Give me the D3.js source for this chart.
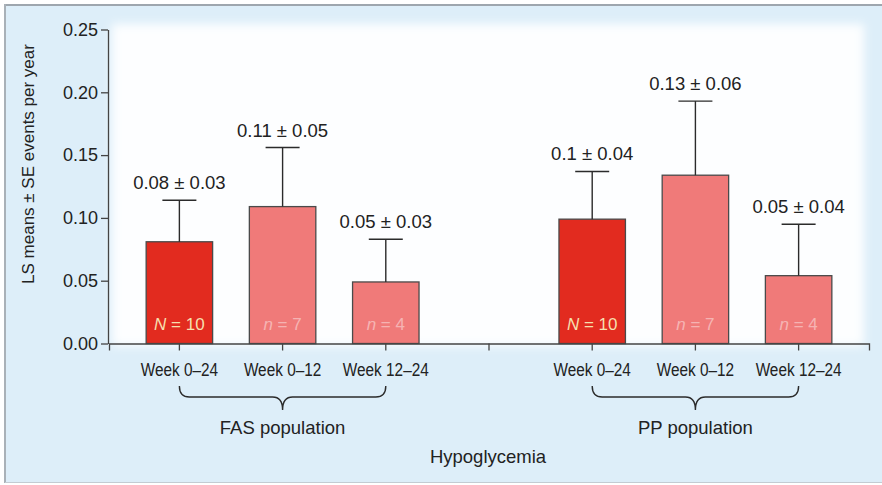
<!DOCTYPE html>
<html>
<head>
<meta charset="utf-8">
<script src="https://cdn.jsdelivr.net/npm/d3@7"></script>
<style>
  html, body { margin: 0; padding: 0; background: #ffffff; }
  svg { display: block; font-family: "Liberation Sans", Arial, Helvetica, sans-serif; }
</style>
</head>
<body>
<svg id="chart" width="882" height="485"></svg>
<script>
// Hypoglycemia event rates (LS means ± SE, events per year)
const periods = ["Week 0–24", "Week 0–12", "Week 12–24"];
const populations = ["FAS population", "PP population"];
const fasMeans = [0.081, 0.109, 0.049];
const fasSE = [0.033, 0.047, 0.034];
const ppMeans = [0.099, 0.134, 0.054];
const ppSE = [0.038, 0.059, 0.041];
const sampleSymbols = ["N", "n", "n"];
const sampleSizes = [10, 7, 4];
const yTicks = [0, 0.05, 0.10, 0.15, 0.20, 0.25];
const yTitle = "LS means ± SE events per year";
const xTitle = "Hypoglycemia";

// one slot per bar, plus an empty slot between the two populations
const slots = [
  ...periods.map((p, i) => "FAS|" + i),
  "gap",
  ...periods.map((p, i) => "PP|" + i)
];

const rows = [];
[[fasMeans, fasSE], [ppMeans, ppSE]].forEach(([means, ses], g) => {
  means.forEach((m, i) => {
    rows.push({
      key: (g === 0 ? "FAS|" : "PP|") + i,
      group: g, idx: i, mean: m, se: ses[i],
      symbol: sampleSymbols[i], n: sampleSizes[i]
    });
  });
});

const svg = d3.select("#chart");
const W = 882, H = 485;

// page background and frame
svg.append("rect").attr("x", 5).attr("y", 5).attr("width", W - 5).attr("height", H - 8)
  .attr("fill", "#ddeef9");

const defs = svg.append("defs");
defs.append("filter").attr("id", "soft").attr("x", "-5%").attr("y", "-10%")
  .attr("width", "110%").attr("height", "120%")
  .append("feGaussianBlur").attr("stdDeviation", 5);

const x = d3.scaleBand().domain(slots).range([109, 869])
  .paddingInner(0.356).paddingOuter(0.36);
const y = d3.scaleLinear().domain([0, 0.25]).range([343.5, 29.5]);

// white plotting panel with soft edges
svg.append("rect").attr("x", 112).attr("y", 24).attr("width", 752).attr("height", 322)
  .attr("fill", "#fdfeff").attr("filter", "url(#soft)");

// frame lines
svg.append("line").attr("x1", 4).attr("x2", W).attr("y1", 5).attr("y2", 5)
  .attr("stroke", "#9ea6ae").attr("stroke-width", 2);
svg.append("line").attr("x1", 5).attr("x2", 5).attr("y1", 4).attr("y2", H - 2)
  .attr("stroke", "#a9b1b8").attr("stroke-width", 2);
svg.append("line").attr("x1", 5).attr("x2", W).attr("y1", H - 2.5).attr("y2", H - 2.5)
  .attr("stroke", "#c3ccd3").attr("stroke-width", 1);

const ink = "#2b2b2b";
const fmt = d3.format(".2~f");

// bars
const barW = x.bandwidth();
svg.append("g").selectAll("rect").data(rows).join("rect")
  .attr("x", d => x(d.key))
  .attr("y", d => y(d.mean))
  .attr("width", barW)
  .attr("height", d => y(0) - y(d.mean))
  .attr("fill", d => d.idx === 0 ? "#e22b1f" : "#f07a79")
  .attr("stroke", "#4a4a4a").attr("stroke-width", 1.3);

// error bars (upper whisker only)
const eb = svg.append("g").attr("stroke", ink).attr("stroke-width", 1.4);
eb.selectAll("line.v").data(rows).join("line").attr("class", "v")
  .attr("x1", d => x(d.key) + barW / 2).attr("x2", d => x(d.key) + barW / 2)
  .attr("y1", d => y(d.mean)).attr("y2", d => y(d.mean + d.se));
eb.selectAll("line.c").data(rows).join("line").attr("class", "c")
  .attr("x1", d => x(d.key) + barW / 2 - 17).attr("x2", d => x(d.key) + barW / 2 + 17)
  .attr("y1", d => y(d.mean + d.se)).attr("y2", d => y(d.mean + d.se));

// value labels
svg.append("g").selectAll("text").data(rows).join("text")
  .attr("x", d => x(d.key) + barW / 2)
  .attr("y", d => y(d.mean + d.se) - 11)
  .attr("text-anchor", "middle").attr("font-size", 18.5).attr("fill", "#222")
  .text(d => fmt(d.mean) + " ± " + fmt(d.se));

// sample sizes inside bars
const ns = svg.append("g").selectAll("text").data(rows).join("text")
  .attr("x", d => x(d.key) + barW / 2)
  .attr("y", y(0) - 14)
  .attr("text-anchor", "middle").attr("font-size", 17)
  .attr("fill", d => d.idx === 0 ? "#f6dfae" : "#fbe6e6")
  .attr("fill-opacity", d => d.idx === 0 ? 1 : 0.55);
ns.append("tspan").attr("font-style", "italic").text(d => d.symbol);
ns.append("tspan").text(d => " = " + d.n);

// y axis
const yAxis = svg.append("g").attr("transform", `translate(${x.range()[0] - 1},0)`)
  .call(d3.axisLeft(y).tickValues(yTicks).tickFormat(d3.format(".2f"))
    .tickSize(7).tickSizeOuter(0).tickPadding(3));
yAxis.selectAll("path, line").attr("stroke", "#444").attr("stroke-width", 1.3);
yAxis.selectAll("text").attr("font-size", 18).attr("fill", "#222")
  .attr("font-family", "'Liberation Sans', Arial, sans-serif");

// x axis
const labelOf = k => k === "gap" ? "" : periods[+k.split("|")[1]];
const xAxis = svg.append("g").attr("transform", `translate(0,${y(0)})`)
  .call(d3.axisBottom(x).tickFormat(labelOf).tickSize(7).tickSizeOuter(7).tickPadding(12));
xAxis.selectAll("path, line").attr("stroke", "#444").attr("stroke-width", 1.3);
xAxis.selectAll("text").attr("font-size", 18.5).attr("fill", "#222")
  .attr("font-family", "'Liberation Sans', Arial, sans-serif")
  .attr("transform", "scale(0.83,1)");

// braces grouping each population
const brace = (x0, x1, top, mid, tip) => {
  const xm = (x0 + x1) / 2, r = 10;
  return `M${x0},${top} Q${x0},${mid} ${x0 + r},${mid} L${xm - r},${mid} Q${xm},${mid} ${xm},${tip}`
    + ` Q${xm},${mid} ${xm + r},${mid} L${x1 - r},${mid} Q${x1},${mid} ${x1},${top}`;
};
populations.forEach((p, g) => {
  const prefix = g === 0 ? "FAS|" : "PP|";
  const x0 = x(prefix + 0) + barW / 2;
  const x1 = x(prefix + (periods.length - 1)) + barW / 2;
  svg.append("path").attr("d", brace(x0, x1, 386, 397, 410))
    .attr("fill", "none").attr("stroke", ink).attr("stroke-width", 1.4);
  svg.append("text").attr("x", (x0 + x1) / 2).attr("y", 434)
    .attr("text-anchor", "middle").attr("font-size", 18.5).attr("fill", "#222").text(p);
});

// axis titles
svg.append("text").attr("x", 488).attr("y", 463).attr("text-anchor", "middle")
  .attr("font-size", 18.5).attr("fill", "#222").text(xTitle);
svg.append("text").attr("transform", "translate(34,164) rotate(-90)")
  .attr("text-anchor", "middle").attr("font-size", 17).attr("fill", "#222").text(yTitle);
</script>
</body>
</html>
